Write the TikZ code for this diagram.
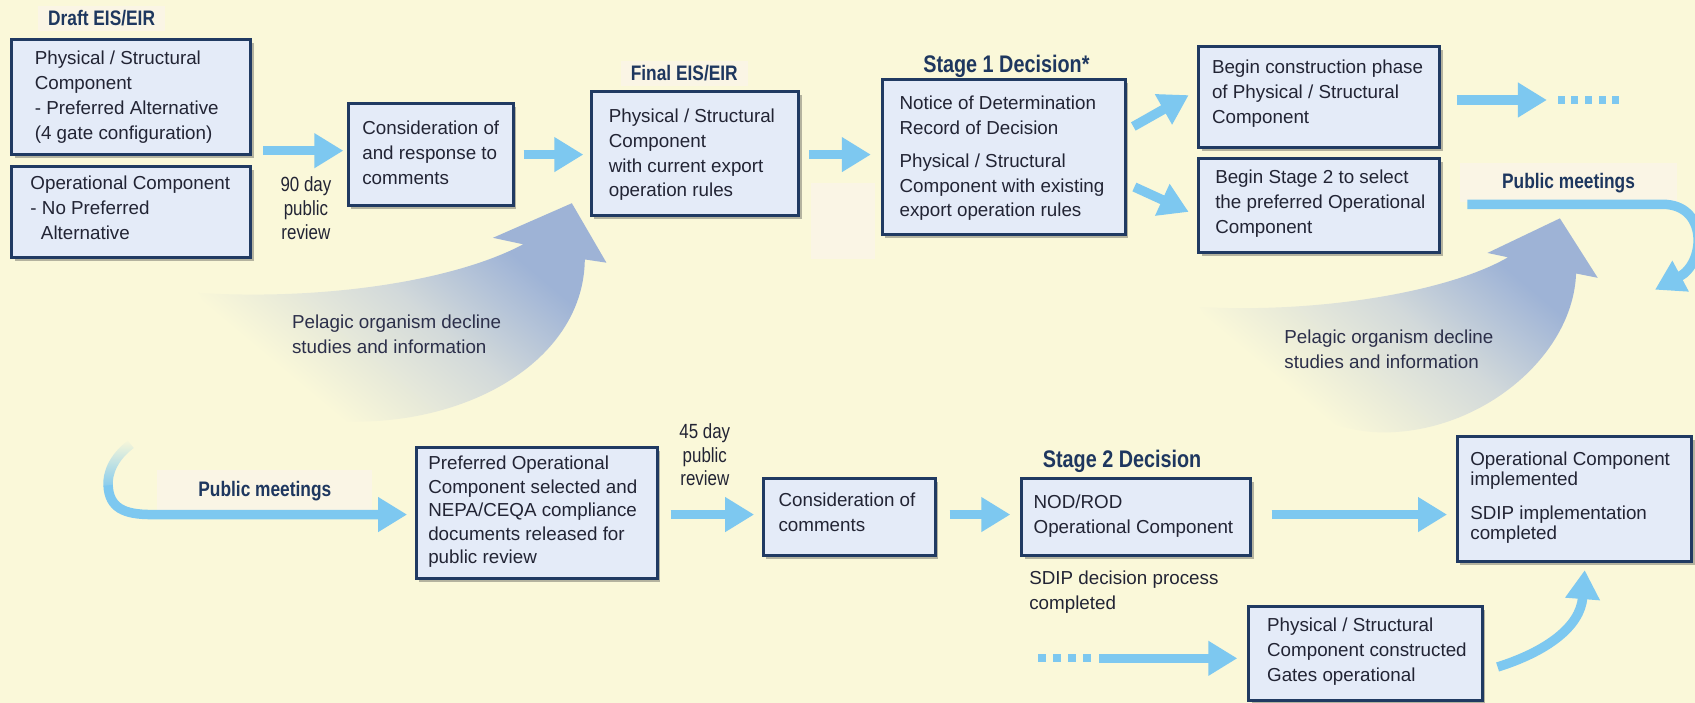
\documentclass[tikz,border=0pt]{standalone}
\usepackage{fontspec}
\setmainfont{Liberation Sans}
\newfontfamily\narrowfont[FakeStretch=0.825]{Liberation Sans}
\usetikzlibrary{arrows.meta,shadows,calc,fadings}
\definecolor{bgc}{RGB}{250,248,217}
\definecolor{patch}{RGB}{250,245,229}
\definecolor{boxfill}{RGB}{228,235,248}
\definecolor{boxline}{RGB}{32,58,98}
\definecolor{txt}{RGB}{34,36,52}
\definecolor{peltxt}{RGB}{44,47,74}
\definecolor{hd}{RGB}{30,55,95}
\definecolor{flowc}{RGB}{125,200,240}
\definecolor{bigc}{RGB}{158,179,214}
\definecolor{bigmid}{RGB}{210,217,218}
\pgfdeclareverticalshading{bigfade}{100bp}{color(0bp)=(bgc); color(30bp)=(bgc); color(52bp)=(bigmid); color(69bp)=(bigc); color(100bp)=(bigc)}
\newcommand\bodyfont{\fontsize{18.8pt}{24.9pt}\selectfont}
\newcommand\headfont{\narrowfont\bfseries\fontsize{21pt}{25pt}\selectfont}
\newcommand\stagefont{\narrowfont\bfseries\fontsize{24pt}{28pt}\selectfont}
\newcommand\reviewfont{\narrowfont\fontsize{20.5pt}{23.8pt}\selectfont}
\newcommand\mkbox[5]{%
  \pgfmathsetmacro\mkbW{(#4-#2)*1.081}%
  \pgfmathsetmacro\mkbH{(#5-#3)*1.081}%
  \pgfmathsetmacro\mkbX{(#2+#4)/2}%
  \pgfmathsetmacro\mkbY{(#3+#5)/2}%
  \node[boxshape, minimum width=\mkbW pt, minimum height=\mkbH pt] (#1) at (\mkbX,\mkbY) {};}
\newcommand\mktext[4]{\node[boxtext] (#1) at (#2,#3) {\strut #4\strut};}
\begin{document}
\begin{tikzpicture}[x=1.081pt,y=-1.081pt,
  boxshape/.style={draw=boxline, line width=3pt, fill=boxfill, inner sep=0pt,
    drop shadow={shadow xshift=3pt, shadow yshift=-3.5pt, fill=black!80, opacity=.35}},
  boxtext/.style={anchor=west, align=left, inner sep=0pt, text=txt, font=\bodyfont},
  heading/.style={text=hd, font=\headfont, fill=patch, inner xsep=10pt, inner ysep=5pt},
  stagehead/.style={text=hd, font=\stagefont, inner sep=0pt},
  note/.style={align=center, inner sep=0pt, text=txt, font=\reviewfont},
  pelagic/.style={anchor=west, align=left, inner sep=0pt, text=peltxt, font=\bodyfont},
  flow/.style={draw=flowc, line width=9.5pt, -{Triangle[length=29pt,width=33pt]}},
  flowline/.style={draw=flowc, line width=9.5pt},
  bigarrow/.style={shading=bigfade, shading angle=-40}
]
\fill[bgc] (0,0) rectangle (1568,650);
\useasboundingbox (0,0) rectangle (1568,650);
\fill[patch] (750,169) rectangle (809,240);

% big gradient arrows
\shade[bigarrow]
  (184,271) .. controls (300,278) and (420,260) .. (484,226) -- (456,220) -- (529,188)
  -- (561,243) -- (541,240) .. controls (540,330) and (440,390) .. (330,390)
  .. controls (260,390) and (210,320) .. cycle;
\shade[bigarrow]
  (1110,284) .. controls (1220,290) and (1340,270) .. (1395,238) -- (1376,234) -- (1443,202)
  -- (1478,257) -- (1458,253) .. controls (1455,330) and (1370,400) .. (1280,400)
  .. controls (1200,400) and (1140,330) .. cycle;

% headings
\node[heading] (draft) at (94,17) {Draft EIS/EIR};
\node[heading] (final) at (633,68) {Final EIS/EIR};
\node[stagehead] (st1) at (931,61) {Stage 1 Decision*};
\node[stagehead] (st2) at (1038,427) {Stage 2 Decision};
\node[heading, minimum width=217pt, minimum height=39pt] (pm1) at (1451,169) {Public meetings};
\node[heading, minimum width=215pt, minimum height=42pt] (pm2) at (245,454) {Public meetings};

% boxes
\mkbox{a1}{11}{37}{232}{143}
\mkbox{a2}{11}{154}{232}{238}
\mkbox{b}{322}{96}{475}{190}
\mkbox{c}{547}{85}{739}{199}
\mkbox{d}{816}{74}{1041}{217}
\mkbox{e1}{1109}{43}{1332}{136}
\mkbox{e2}{1109}{147}{1332}{234}
\mkbox{f}{385}{414}{608}{535}
\mkbox{g}{706}{443}{865}{514}
\mkbox{h}{945}{443}{1157}{514}
\mkbox{i}{1348}{404}{1565}{519}
\mkbox{j}{1155}{561}{1371}{648}

% box texts
\mktext{a1t}{32}{89.5}{Physical / Structural\\Component\\- Preferred Alternative\\(4 gate configuration)}
\mktext{a2t}{28}{194}{Operational Component\\- No Preferred\\\hspace*{10.5pt}Alternative}
\mktext{bt}{335}{143}{Consideration of\\and response to\\comments}
\mktext{ct}{563}{143}{Physical / Structural\\Component\\with current export\\operation rules}
\mktext{dt}{832}{146.5}{Notice of Determination\\Record of Decision\\[7.6pt]Physical / Structural\\Component with existing\\export operation rules}
\mktext{e1t}{1121}{86.5}{Begin construction phase\\of Physical / Structural\\Component}
\mktext{e2t}{1124}{188.5}{Begin Stage 2 to select\\the preferred Operational\\Component}
\node[boxtext, font=\fontsize{18.8pt}{23.5pt}\selectfont] (ft) at (396,473.5)
  {\strut Preferred Operational\\Component selected and\\NEPA/CEQA compliance\\documents released for\\public review\strut};
\mktext{gt}{720}{475.5}{Consideration of\\comments}
\mktext{ht}{956}{477.5}{NOD/ROD\\Operational Component}
\node[boxtext, font=\fontsize{18.8pt}{19.8pt}\selectfont] (it) at (1360,461)
  {\strut Operational Component\\implemented\\[14pt]SDIP implementation\\completed\strut};
\mktext{jt}{1172}{602.5}{Physical / Structural\\Component constructed\\Gates operational}

% free texts
\node[note] (rev90) at (283,195) {\strut 90 day\\public\\review\strut};
\node[note] (rev45) at (652,423) {\strut 45 day\\public\\review\strut};
\node[pelagic] (pel1) at (270,311) {\strut Pelagic organism decline\\studies and information\strut};
\node[pelagic] (pel2) at (1188,324.5) {\strut Pelagic organism decline\\studies and information\strut};
\node[pelagic, text=txt] (sdip) at (952,548) {\strut SDIP decision process\\completed\strut};

% free ends
\coordinate (dotsA) at (1431,92.5);
\coordinate (pmEnd) at (1531,268);
\coordinate (pmTop) at (121,411);
\coordinate (dotsB) at (1017,609);

% flow arrows
\draw[flow] ($(a1.south east)+(10,-5)$) -- ($(b.west |- a1.south east)+(-3,-5)$);
\draw[flow] ($(b.east)+(8,0)$) -- ($(c.west |- b.east)+(-6,0)$);
\draw[flow] ($(c.east)+(8,1)$) -- ($(d.west |- c.east)+(-9,1)$);
\draw[flow] ($(d.east)+(6,-28.5)$) -- ($(e1.west)+(-8,-1.5)$);
\draw[flow] ($(d.east)+(7,27.5)$) -- ($(e2.west)+(-8,5.5)$);
\draw[flow] ($(e1.east)+(14,3)$) -- (dotsA);
\foreach \k in {0,...,4} \fill[flowc] ({1441+\k*12.6},88.8) rectangle ++(6.5,7.5);
\draw[flow] ($(e2.east)+(24,-1.5)$) -- (1538,189) .. controls (1580,189) and (1578,243) .. (pmEnd);

\draw[flowline, path fading=north] (pmTop) .. controls (105,423) and (99,438) .. (100,450);
\draw[flow] (100,449) .. controls (101,470) and (115,476) .. (140,476) -- ($(f.west |- 0,476)+(-7,0)$);
\draw[flow] ($(f.east |- 0,476)+(11,0)$) -- ($(g.west |- 0,476)+(-7,0)$);
\draw[flow] ($(g.east |- 0,476)+(12,0)$) -- ($(h.west |- 0,476)+(-9,0)$);
\draw[flow] ($(h.east |- 0,476)+(18,0)$) -- ($(i.west |- 0,476)+(-8,0)$);
\foreach \k in {0,...,3} \fill[flowc] ({960+\k*14},605.3) rectangle ++(7.5,7.5);
\draw[flow] (dotsB) -- ($(j.west |- dotsB)+(-9,0)$);
\draw[flow] ($(j.east)+(13,12.5)$) .. controls (1430,603) and (1462,580) .. ($(i.south)+(9.5,7)$);
\end{tikzpicture}
\end{document}
